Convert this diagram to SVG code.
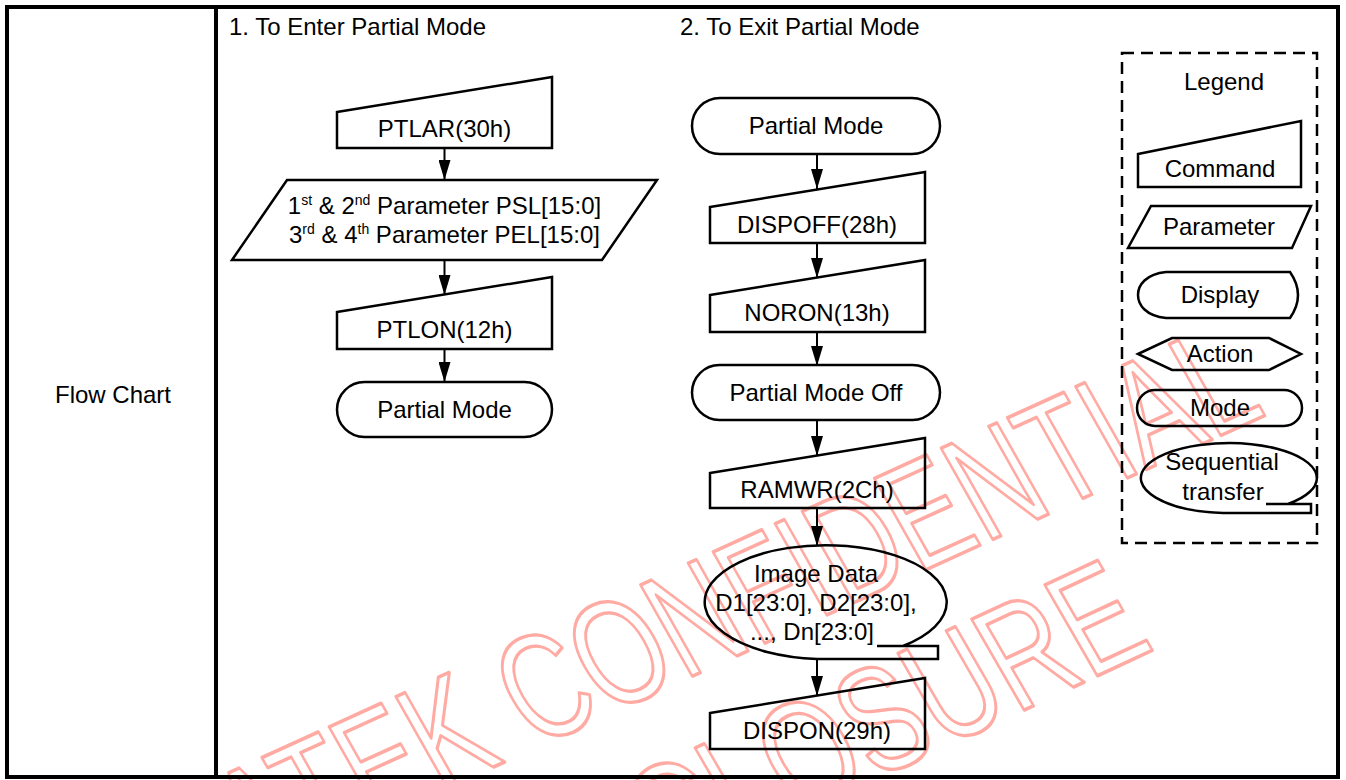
<svg xmlns="http://www.w3.org/2000/svg" width="1346" height="780" viewBox="0 0 1346 780">
<defs>
<style>
.t{font-family:"Liberation Sans",Arial,Helvetica,sans-serif;font-size:24px;fill:#000;}
.c{text-anchor:middle;}
.sh{fill:none;stroke:#000;stroke-width:2.5;stroke-linejoin:miter;}
.ln{stroke:#000;stroke-width:2;fill:none;}
.wm{font-family:"Liberation Sans",Arial,sans-serif;font-size:152px;fill:none;stroke:#ffaaa2;stroke-width:3.5;stroke-linejoin:round;}
</style>
<marker id="ah" markerUnits="userSpaceOnUse" viewBox="0 0 20 12" refX="20" refY="6" markerWidth="20" markerHeight="12" orient="auto">
<path d="M0,0 L20,6 L0,12 Z" fill="#000"/>
</marker>
</defs>
<rect x="0" y="0" width="1346" height="780" fill="#fff"/>

<g id="watermark">
<text class="wm" transform="translate(252,877) rotate(-24.5) skewX(5) scale(0.724,1)">ATEK CONFIDENTIAL</text>
<text class="wm" transform="translate(666,877) rotate(-25) skewX(5) scale(0.737,1)">CLOSURE</text>
</g>

<g id="frame">
<rect x="7" y="7" width="1331" height="770" fill="none" stroke="#000" stroke-width="4"/>
<line x1="216" y1="7" x2="216" y2="777" stroke="#000" stroke-width="4"/>
</g>
<text class="t c" x="113" y="403">Flow Chart</text>
<text class="t" x="229" y="35">1. To Enter Partial Mode</text>
<text class="t" x="680" y="35">2. To Exit Partial Mode</text>

<g id="connectors">
<line class="ln" x1="444.5" y1="148" x2="444.5" y2="180" marker-end="url(#ah)"/>
<line class="ln" x1="444.5" y1="260" x2="444.5" y2="295" marker-end="url(#ah)"/>
<line class="ln" x1="444.5" y1="349" x2="444.5" y2="382" marker-end="url(#ah)"/>
<line class="ln" x1="817" y1="154" x2="817" y2="189" marker-end="url(#ah)"/>
<line class="ln" x1="817" y1="243" x2="817" y2="278" marker-end="url(#ah)"/>
<line class="ln" x1="817" y1="332" x2="817" y2="366" marker-end="url(#ah)"/>
<line class="ln" x1="817" y1="420" x2="817" y2="456" marker-end="url(#ah)"/>
<line class="ln" x1="817" y1="508" x2="817" y2="546" marker-end="url(#ah)"/>
<line class="ln" x1="817" y1="659" x2="817" y2="696" marker-end="url(#ah)"/>
</g>

<g id="ptlar">
<path class="sh" d="M337,112 L552,77 L552,148 L337,148 Z"/>
<text class="t c" x="444.5" y="137" font-size="25">PTLAR(30h)</text>
</g>
<g id="params">
<path class="sh" d="M287,180 L657,180 L602,260 L232,260 Z"/>
<text class="t c" x="444.5" y="214" font-size="24.5">1<tspan font-size="14" dy="-9">st</tspan><tspan dy="9"> &amp; 2</tspan><tspan font-size="14" dy="-9">nd</tspan><tspan dy="9"> Parameter PSL[15:0]</tspan></text>
<text class="t c" x="444.5" y="243" font-size="24.5">3<tspan font-size="14" dy="-9">rd</tspan><tspan dy="9"> &amp; 4</tspan><tspan font-size="14" dy="-9">th</tspan><tspan dy="9"> Parameter PEL[15:0]</tspan></text>
</g>
<g id="ptlon">
<path class="sh" d="M337,312 L552,277 L552,349 L337,349 Z"/>
<text class="t c" x="444.5" y="338" font-size="25">PTLON(12h)</text>
</g>
<g id="partial1">
<rect class="sh" x="337" y="382" width="215" height="55" rx="27.5"/>
<text class="t c" x="444.5" y="418">Partial Mode</text>
</g>

<g id="partial2">
<rect class="sh" x="692" y="98" width="248" height="56" rx="28"/>
<text class="t c" x="816" y="134">Partial Mode</text>
</g>
<g id="dispoff">
<path class="sh" d="M710,207 L925,172 L925,243 L710,243 Z"/>
<text class="t c" x="817" y="233">DISPOFF(28h)</text>
</g>
<g id="noron">
<path class="sh" d="M710,295 L925,260 L925,332 L710,332 Z"/>
<text class="t c" x="817" y="321">NORON(13h)</text>
</g>
<g id="pmoff">
<rect class="sh" x="692" y="365" width="248" height="55" rx="27.5"/>
<text class="t c" x="816" y="401">Partial Mode Off</text>
</g>
<g id="ramwr">
<path class="sh" d="M710,473 L925,438 L925,508 L710,508 Z"/>
<text class="t c" x="817" y="498">RAMWR(2Ch)</text>
</g>
<g id="imgdata">
<path class="sh" d="M817,659 A121,57 0 1 1 903,646 L877,646 L938,646 L938,659 Z"/>
<text class="t c" x="816" y="582">Image Data</text>
<text class="t c" x="816" y="611">D1[23:0], D2[23:0],</text>
<text class="t c" x="812" y="640">..., Dn[23:0]</text>
</g>
<g id="dispon">
<path class="sh" d="M710,713 L925,678 L925,749 L710,749 Z"/>
<text class="t c" x="817" y="739">DISPON(29h)</text>
</g>

<g id="legend">
<rect x="1122" y="53" width="195" height="490" fill="none" stroke="#000" stroke-width="2.5" stroke-dasharray="12 7"/>
<text class="t c" x="1224" y="90" font-size="29">Legend</text>
<g id="lg-command">
<path class="sh" d="M1138,154 L1301,121 L1301,187 L1138,187 Z"/>
<text class="t c" x="1220" y="177">Command</text>
</g>
<g id="lg-parameter">
<path class="sh" d="M1151,206 L1311,206 L1292,248 L1128,248 Z"/>
<text class="t c" x="1219" y="235">Parameter</text>
</g>
<g id="lg-display">
<path class="sh" d="M1166,272 H1290 Q1306,295 1290,318 H1166 C1146,316 1138,305 1138,295 C1138,285 1146,274 1166,272 Z"/>
<text class="t c" x="1220" y="303">Display</text>
</g>
<g id="lg-action">
<path class="sh" d="M1138,354 L1172,338 L1269,338 L1301,354 L1269,370 L1172,370 Z"/>
<text class="t c" x="1220" y="362">Action</text>
</g>
<g id="lg-mode">
<rect class="sh" x="1137" y="390" width="165" height="36" rx="18"/>
<text class="t c" x="1220" y="416">Mode</text>
</g>
<g id="lg-seq">
<path class="sh" d="M1223,513 A88,35 0 1 1 1288,504 L1266,504 L1311,504 L1311,513 Z"/>
<text class="t c" x="1222" y="470">Sequential</text>
<text class="t c" x="1223" y="500">transfer</text>
</g>
</g>
</svg>
